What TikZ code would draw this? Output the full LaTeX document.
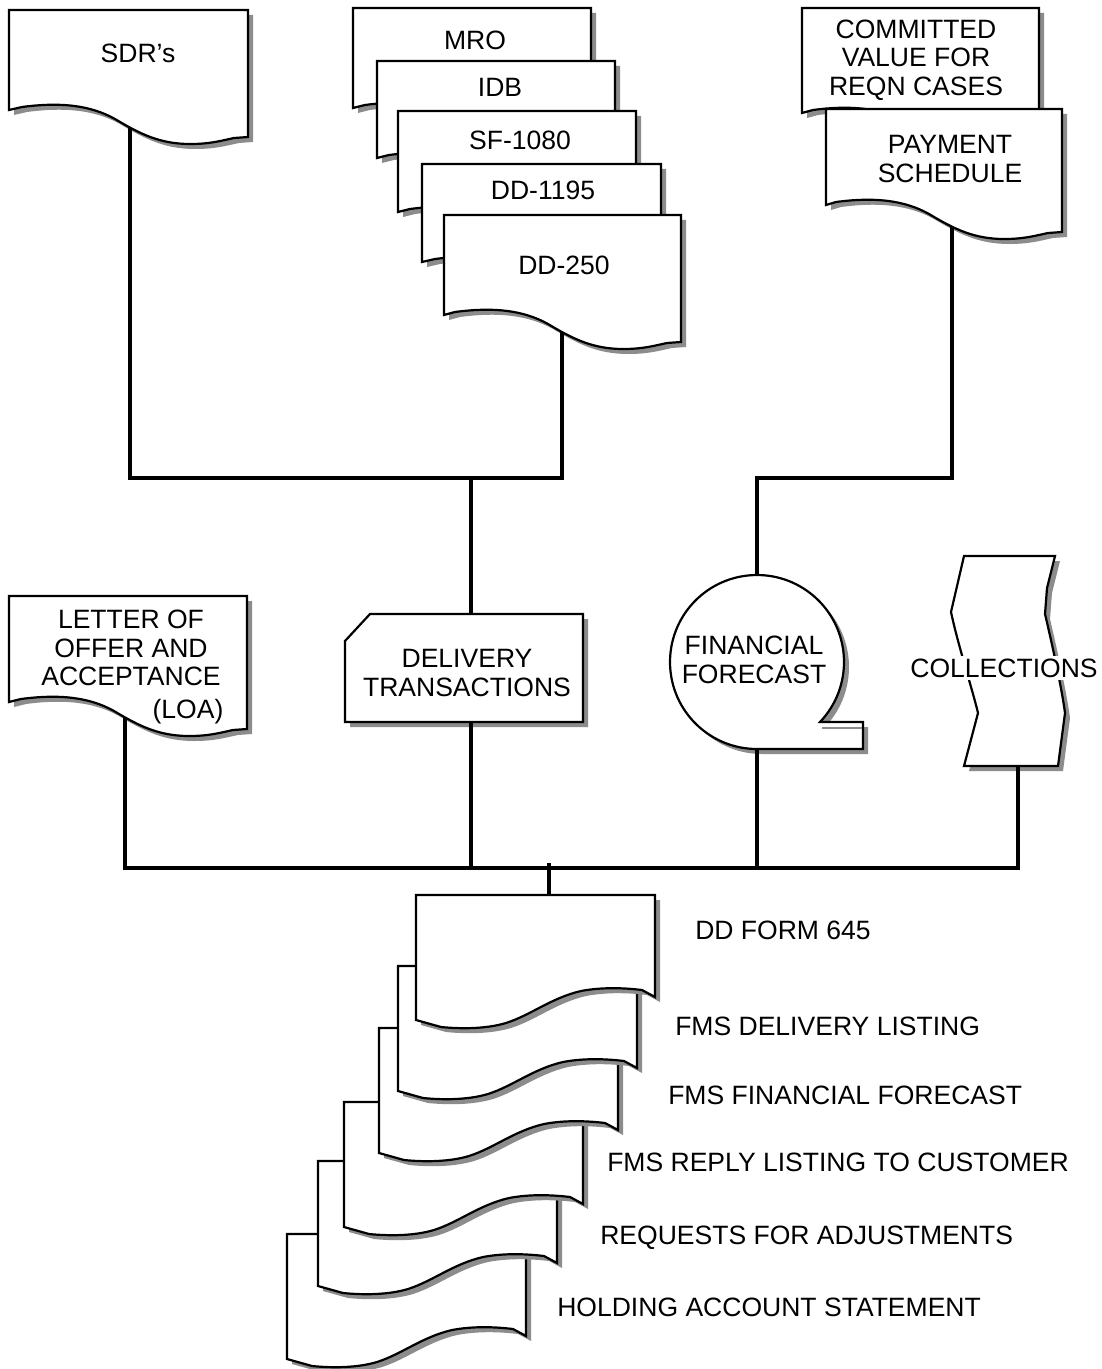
\documentclass[tikz,border=0pt]{standalone}
\usepackage{fontspec}
\setmainfont{Liberation Sans}
\usetikzlibrary{intersections}

\tikzset{
  docline/.style={draw=black, line width=1.65pt, fill=white, line join=miter},
  dropsh/.style={fill=black!45, draw=none},
  wire/.style={draw=black, line width=3.7pt},
  txt/.style={font=\fontsize{19.9}{21.4}\selectfont, inner sep=0pt, align=center},
}

% Document symbol whose wavy bottom dips towards the right (#2 = width, #3 = left height)
\newcommand\docAoutline[3]{%
  \path[#1] (0,0) -- (#2,0) -- (#2,#3+27) -- (#2-14,#3+28)
    .. controls (#2-28,#3+31) and (#2-38,#3+34) .. (#2-58,#3+34)
    .. controls (#2-88,#3+34) and (#2-108,#3+24) .. (#2-133,#3+9)
    .. controls (#2-158,#3-5) and (#2-188,#3-8) .. (#2-226,#3-3)
    -- (0,#3) -- cycle;}
% Document symbol whose wavy bottom rises towards the right
\newcommand\docBoutline[3]{%
  \path[#1] (0,0) -- (#2,0) -- (#2,#3-23) -- (#2-13,#3-30)
    .. controls (#2-38,#3-33) and (#2-58,#3-32) .. (#2-74,#3-29)
    .. controls (#2-104,#3-22) and (#2-124,#3-5) .. (#2-149,#3+3)
    .. controls (#2-169,#3+9) and (#2-194,#3+9) .. (#2-214,#3+7)
    -- (0,#3) -- cycle;}
% #1 path name, #2 x, #3 y (top left), #4 width, #5 height
\newcommand\docA[5]{%
  \begin{scope}[shift={(#2+5,#3+5)}]\docAoutline{dropsh}{#4}{#5}\end{scope}
  \begin{scope}[shift={(#2,#3)}]\docAoutline{docline,name path global=#1}{#4}{#5}\end{scope}}
\newcommand\docB[5]{%
  \begin{scope}[shift={(#2+5,#3+5)}]\docBoutline{dropsh}{#4}{#5}\end{scope}
  \begin{scope}[shift={(#2,#3)}]\docBoutline{docline,name path global=#1}{#4}{#5}\end{scope}}
% Online storage symbol with its tail
\newcommand\forecastoutline[1]{%
  \path[#1] (820,722) arc[start angle=43.6, end angle=-270, radius=87]
    -- (863,749) -- (863,722) -- cycle;}
% Punched-tape symbol
\newcommand\collectoutline[1]{%
  \path[#1] (964,556) -- (1055,556) -- (1047,588) -- (1045,614)
    .. controls (1053,648) and (1062,690) .. (1065,713) -- (1058,766)
    -- (964,766) -- (978,713) .. controls (972,688) and (958,645) .. (951,612)
    -- cycle;}
% Manual input symbol (cut top-left corner)
\newcommand\deliveryoutline[1]{%
  \path[#1] (370,614) -- (583,614) -- (583,722) -- (345,722) -- (345,641) -- cycle;}

\begin{document}
\begin{tikzpicture}[x=0.75pt,y=-0.75pt]
\path[fill=white] (0,0) rectangle (1101,1369);
\useasboundingbox (0,0) rectangle (1101,1369);

% ---- source documents ----
\docA{sdr}{9}{10}{239}{100}
\node[txt] (sdrtxt) at (138,53) {SDR’s};

\docA{mro}{353}{8}{238}{100}
\node[txt] (mrotxt) at (475,40) {MRO};
\docA{idb}{377}{61}{238}{97}
\node[txt] (idbtxt) at (500,87) {IDB};
\docA{sf}{398}{111}{238}{101}
\node[txt] (sftxt) at (520,140) {SF-1080};
\docA{ddA}{422}{164}{239}{98}
\node[txt] (ddAtxt) at (543,190) {DD-1195};
\docA{ddB}{444}{215}{237}{100}
\node[txt] (ddBtxt) at (564,265) {DD-250};

\docA{cvr}{802}{8}{237}{105}
\node[txt] (cvrtxt) at (916,60) {COMMITTED\\VALUE FOR\\REQN CASES};
\docA{pay}{826}{109}{236}{96}
\node[txt] (paytxt) at (950,159) {PAYMENT\\SCHEDULE};

% ---- middle row ----
\docA{loa}{9}{596}{238}{106}
\node[txt] (loatxt) at (131,648) {LETTER OF\\OFFER AND\\ACCEPTANCE};
\node[txt] (loatag) at (188,712) {(LOA)};

\begin{scope}[shift={(5,5)}]\deliveryoutline{dropsh}\end{scope}
\deliveryoutline{docline}
\node[txt] (deliv) at (467,673) {DELIVERY\\TRANSACTIONS};

\begin{scope}[shift={(5,5)}]\forecastoutline{dropsh}\end{scope}
\forecastoutline{docline}
\draw[black!45, line width=1.5pt] (822,727.5) -- (862,727.5);
\node[txt] (ff) at (754,660) {FINANCIAL\\FORECAST};

\begin{scope}[shift={(5,5)}]\collectoutline{dropsh}\end{scope}
\collectoutline{docline}
\node[txt, fill=white, inner sep=2pt] (coll) at (1004,668) {COLLECTIONS};

% ---- output documents ----
\docB{outF}{287}{1234}{239}{125}
\docB{outE}{318}{1161}{239}{125}
\docB{outD}{344}{1102}{239}{125}
\docB{outC}{379}{1028}{239}{125}
\docB{outB}{398}{966}{239}{125}
\docB{outA}{416}{895}{239}{125}

\node[txt, anchor=west] (lA) at (695,930)  {DD FORM 645};
\node[txt, anchor=west] (lB) at (675,1026) {FMS DELIVERY LISTING};
\node[txt, anchor=west] (lC) at (668,1095) {FMS FINANCIAL FORECAST};
\node[txt, anchor=west] (lD) at (607,1162) {FMS REPLY LISTING TO CUSTOMER};
\node[txt, anchor=west] (lE) at (600,1238) {REQUESTS FOR ADJUSTMENTS};
\node[txt, anchor=west] (lF) at (557,1307) {HOLDING ACCOUNT STATEMENT};

% ---- connector end points ----
\path[name path=vsdr] (130,60) -- (130,400);
\path[name intersections={of=sdr and vsdr, by=sdrout}];
\path[name path=vddB] (562,280) -- (562,470);
\path[name intersections={of=ddB and vddB, by=ddBout}];
\path[name path=vpay] (952,150) -- (952,470);
\path[name intersections={of=pay and vpay, by=payout}];
\path[name path=vloa] (125,650) -- (125,860);
\path[name intersections={of=loa and vloa, by=loaout}];

\coordinate (j1) at (471,478);
\coordinate (delivtop) at (471,614);
\coordinate (delivbot) at (471,722);
\coordinate (j2) at (757,478);
\coordinate (fftop) at (757,575);
\coordinate (ffbot) at (757,749);
\coordinate (collout) at (1018,766);
\coordinate (busc) at (549,868);
\coordinate (stubtop) at (549,863);
\coordinate (outtop) at (549,895);

% ---- connectors ----
\draw[wire] (sdrout) |- (j1) -| (ddBout);
\draw[wire] (j1) -- (delivtop);
\draw[wire] (payout) |- (j2) -- (fftop);
\draw[wire] (loaout) |- (busc) -| (collout);
\draw[wire] (delivbot) -- (delivbot |- busc);
\draw[wire] (ffbot) -- (ffbot |- busc);
\draw[wire] (stubtop) -- (outtop);
\end{tikzpicture}
\end{document}
